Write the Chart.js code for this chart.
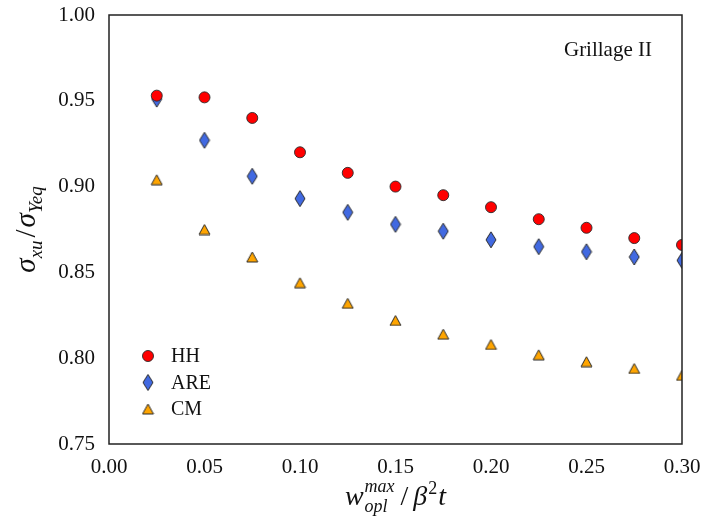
<!DOCTYPE html>
<html>
<head>
<meta charset="utf-8">
<script src="https://cdn.jsdelivr.net/npm/chart.js@4.4.1/dist/chart.umd.min.js"></script>
<style>
  html, body { margin: 0; padding: 0; background: #ffffff; }
  #wrap { width: 703px; height: 531px; position: relative; }
</style>
</head>
<body>
<div id="wrap"><canvas id="c" width="703" height="531"></canvas></div>
<script>
// ---- data ----
const xValues = [0.025, 0.05, 0.075, 0.10, 0.125, 0.15, 0.175, 0.20, 0.225, 0.25, 0.275, 0.30];
const hhValues = [0.953, 0.952, 0.940, 0.920, 0.908, 0.900, 0.895, 0.888, 0.881, 0.876, 0.870, 0.866];
const areValues = [0.951, 0.927, 0.906, 0.893, 0.885, 0.878, 0.874, 0.869, 0.865, 0.862, 0.859, 0.857];
const cmValues = [0.904, 0.875, 0.859, 0.844, 0.832, 0.822, 0.814, 0.808, 0.802, 0.798, 0.794, 0.790];
const seriesLabels = ['HH', 'ARE', 'CM'];
const xTicks = [0.00, 0.05, 0.10, 0.15, 0.20, 0.25, 0.30];
const yTicks = [0.75, 0.80, 0.85, 0.90, 0.95, 1.00];
const annotationText = 'Grillage II';

const EDGE = '#2a2a2a';
const SERIF = '"Liberation Serif", "DejaVu Serif", serif';

function makeDiamond(w, h, fill) {
  const c = document.createElement('canvas');
  c.width = w + 2; c.height = h + 2;
  const g = c.getContext('2d');
  g.beginPath();
  g.moveTo(c.width / 2, 1);
  g.lineTo(c.width - 1, c.height / 2);
  g.lineTo(c.width / 2, c.height - 1);
  g.lineTo(1, c.height / 2);
  g.closePath();
  g.fillStyle = fill; g.fill();
  g.lineWidth = 1; g.strokeStyle = EDGE; g.stroke();
  return c;
}
function makeTriangle(w, h, fill) {
  const c = document.createElement('canvas');
  c.width = w + 2; c.height = h + 2;
  const g = c.getContext('2d');
  g.beginPath();
  g.moveTo(c.width / 2, 1);
  g.lineTo(c.width - 1, c.height - 1);
  g.lineTo(1, c.height - 1);
  g.closePath();
  g.fillStyle = fill; g.fill();
  g.lineWidth = 1; g.strokeStyle = EDGE; g.stroke();
  return c;
}
const diamondImg = makeDiamond(10, 16, '#4169e1');
const triangleImg = makeTriangle(11, 10, '#ffa500');

function pts(vals) { return xValues.map((x, i) => ({ x: x, y: vals[i] })); }

const datasets = [
  { label: seriesLabels[0], data: pts(hhValues), pointStyle: 'circle', pointRadius: 5.5,
    backgroundColor: '#ff0000', borderColor: EDGE, borderWidth: 0.9, showLine: false },
  { label: seriesLabels[1], data: pts(areValues), pointStyle: diamondImg, pointRadius: 6,
    backgroundColor: '#4169e1', borderColor: EDGE, borderWidth: 0.9, showLine: false },
  { label: seriesLabels[2], data: pts(cmValues), pointStyle: triangleImg, pointRadius: 6,
    backgroundColor: '#ffa500', borderColor: EDGE, borderWidth: 0.9, showLine: false }
];

function runsWidth(ctx, runs) {
  let w = 0;
  runs.forEach(r => {
    if (r.stack) {
      let m = 0;
      r.stack.forEach(s => { ctx.font = s.font; m = Math.max(m, ctx.measureText(s.t).width); });
      w += m + (r.gap || 0);
    } else { ctx.font = r.font; w += ctx.measureText(r.t).width + (r.gap || 0); }
  });
  return w;
}
function drawRuns(ctx, runs, x, y) {
  ctx.textBaseline = 'alphabetic';
  ctx.textAlign = 'left';
  runs.forEach(r => {
    if (r.stack) {
      let m = 0;
      r.stack.forEach(s => {
        ctx.font = s.font;
        ctx.fillText(s.t, x, y + s.dy);
        m = Math.max(m, ctx.measureText(s.t).width);
      });
      x += m + (r.gap || 0);
    } else {
      ctx.font = r.font;
      ctx.fillText(r.t, x, y + (r.dy || 0));
      x += ctx.measureText(r.t).width + (r.gap || 0);
    }
  });
}

const decorPlugin = {
  id: 'decor',
  afterDraw(chart) {
    const ctx = chart.ctx;
    const a = chart.chartArea;
    ctx.save();
    ctx.strokeStyle = '#222222';
    ctx.lineWidth = 1.5;
    ctx.strokeRect(a.left, a.top, a.right - a.left, a.bottom - a.top);
    ctx.fillStyle = '#111111';

    ctx.font = '21px ' + SERIF;
    ctx.textAlign = 'right';
    ctx.textBaseline = 'alphabetic';
    ctx.fillText(annotationText, a.right - 30, a.top + 41);

    const lx = a.left + 39, ly0 = a.top + 341, dyl = 26.5;
    chart.data.datasets.forEach((ds, i) => {
      const y = ly0 + i * dyl;
      if (typeof ds.pointStyle === 'string') {
        ctx.fillStyle = ds.backgroundColor; ctx.strokeStyle = ds.borderColor; ctx.lineWidth = ds.borderWidth;
        Chart.helpers.drawPoint(ctx, { pointStyle: ds.pointStyle, radius: ds.pointRadius, borderWidth: ds.borderWidth, rotation: 0 }, lx, y);
      } else {
        const img = ds.pointStyle;
        ctx.drawImage(img, lx - img.width / 2, y - img.height / 2);
      }
      ctx.fillStyle = '#111111';
      ctx.font = '20px ' + SERIF;
      ctx.textAlign = 'left';
      ctx.textBaseline = 'middle';
      ctx.fillText(ds.label, lx + 23, y + 1);
    });

    const big = 'italic 28px ' + SERIF, bigUp = '28px ' + SERIF, small = 'italic 18px ' + SERIF, smallUp = '18px ' + SERIF;
    const xr = [
      { t: 'w', font: big, gap: 1 },
      { stack: [{ t: 'max', font: small, dy: -13 }, { t: 'opl', font: small, dy: 7 }], gap: 6 },
      { t: '/', font: bigUp, gap: 5 },
      { t: 'β', font: big, gap: 1 },
      { t: '2', font: smallUp, dy: -11, gap: 1 },
      { t: 't', font: big }
    ];
    ctx.fillStyle = '#111111';
    const xw = runsWidth(ctx, xr);
    drawRuns(ctx, xr, (a.left + a.right) / 2 - xw / 2, 505);

    const yr = [
      { t: 'σ', font: 'italic 29px ' + SERIF, gap: 0 },
      { t: 'xu', font: 'italic 19px ' + SERIF, dy: 7, gap: 3 },
      { t: '/', font: '29px ' + SERIF, gap: 2 },
      { t: 'σ', font: 'italic 29px ' + SERIF, gap: 0 },
      { t: 'Yeq', font: 'italic 19px ' + SERIF, dy: 7 }
    ];
    const yw = runsWidth(ctx, yr);
    ctx.translate(35, (a.top + a.bottom) / 2);
    ctx.rotate(-Math.PI / 2);
    drawRuns(ctx, yr, -yw / 2, 0);
    ctx.restore();
  }
};

function zeroPad(scale) {
  scale.paddingLeft = 0; scale.paddingRight = 0; scale.paddingTop = 0; scale.paddingBottom = 0;
}

new Chart(document.getElementById('c'), {
  type: 'scatter',
  data: { datasets: datasets },
  options: {
    responsive: false,
    animation: false,
    devicePixelRatio: 1,
    layout: { padding: { left: 0, right: 21, top: 15, bottom: 0 } },
    plugins: { legend: { display: false }, tooltip: { enabled: false } },
    scales: {
      x: {
        type: 'linear', min: 0, max: 0.30,
        grid: { display: false, drawTicks: false },
        border: { display: false },
        afterBuildTicks(scale) { scale.ticks = xTicks.map(v => ({ value: v })); },
        afterFit(scale) { scale.height = 87; zeroPad(scale); },
        ticks: {
          padding: 11,
          color: '#111111',
          font: { family: SERIF, size: 21 },
          maxRotation: 0,
          callback: v => Number(v).toFixed(2)
        }
      },
      y: {
        type: 'linear', min: 0.75, max: 1.00,
        grid: { display: false, drawTicks: false },
        border: { display: false },
        afterBuildTicks(scale) { scale.ticks = yTicks.map(v => ({ value: v })); },
        afterFit(scale) { scale.width = 109; zeroPad(scale); },
        ticks: {
          padding: 14,
          color: '#111111',
          font: { family: SERIF, size: 21 },
          callback: v => Number(v).toFixed(2)
        }
      }
    }
  },
  plugins: [decorPlugin]
});
</script>
</body>
</html>
